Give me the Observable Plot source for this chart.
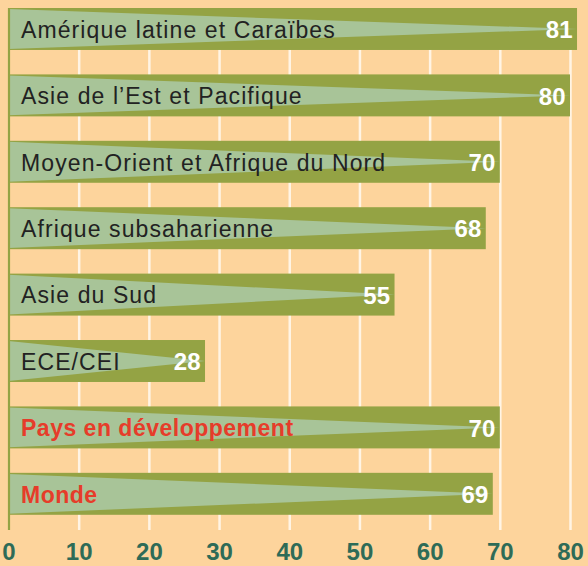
<!DOCTYPE html>
<html><head><meta charset="utf-8">
<script src="https://cdn.jsdelivr.net/npm/d3@7"></script>
<script src="https://cdn.jsdelivr.net/npm/@observablehq/plot@0.6"></script>
<style>
html,body{margin:0;padding:0;background:#FDD49C;}
svg{display:block;}
</style></head><body>
<div id="chart"></div>
<script>
const categories = ["Amérique latine et Caraïbes","Asie de l’Est et Pacifique","Moyen-Orient et Afrique du Nord","Afrique subsaharienne","Asie du Sud","ECE/CEI","Pays en développement","Monde"];
const values = [81,80,70,68,55,28,70,69];
const highlighted = ["Pays en développement","Monde"];
const xTicks = [0,10,20,30,40,50,60,70,80];

const data = categories.map((c,i)=>({cat:c, i, value:values[i], hl: highlighted.includes(c)}));
const H = 0.316, HW = 0.30;
const wedge = data.flatMap(d=>[
  {cat:d.cat, x:0, y1:d.i-HW, y2:d.i+HW},
  {cat:d.cat, x:d.value, y1:d.i, y2:d.i}
]);

const OLIVE = "#94A344", LIGHT = "#A8C498", TEAL = "#2E6B57", RED = "#E63C2A";
const font = "'Liberation Sans', Arial, sans-serif";

const chart = Plot.plot({
  width:588, height:566,
  marginLeft:8.5, marginRight:18, marginTop:8, marginBottom:36,
  style:{background:"#FDD49C", fontFamily:font, overflow:"visible"},
  x:{domain:[0,80], ticks:xTicks, tickSize:0, tickPadding:12, label:null},
  y:{domain:[-0.316,7.545], reverse:true, axis:null},
  marks:[
    Plot.ruleX(xTicks.filter(t=>t>0), {stroke:"#FFF4E4", strokeWidth:2.5}),
    Plot.rectX(data, {x1:0, x2:"value", y1:d=>d.i-H, y2:d=>d.i+H, fill:OLIVE}),
    Plot.areaY(wedge, {x:"x", y1:"y1", y2:"y2", z:"cat", fill:LIGHT, curve:"linear"}),
    Plot.ruleX([0], {stroke:OLIVE, strokeWidth:2.2}),
    Plot.text(data.filter(d=>!d.hl), {x:0, y:"i", text:"cat", textAnchor:"start", dx:12, dy:1, fontSize:23,
      fill:"#222", className:"catlab"}),
    Plot.text(data.filter(d=>d.hl), {x:0, y:"i", text:"cat", textAnchor:"start", dx:12, dy:1, fontSize:23,
      fill:RED, fontWeight:"bold", className:"hllab"}),
    Plot.text(data, {x:"value", y:"i", text:d=>String(d.value), textAnchor:"end", dx:-5, dy:1,
      fontSize:24, fontWeight:"bold", fill:"white"})
  ]
});
chart.querySelectorAll("g[aria-label='x-axis tick label']").forEach(e=>{
  e.setAttribute("font-size","24"); e.setAttribute("font-weight","bold"); e.setAttribute("fill",TEAL);
});
chart.querySelectorAll(".catlab").forEach(e=>e.setAttribute("letter-spacing","1.1"));
chart.querySelectorAll(".hllab").forEach(e=>e.setAttribute("letter-spacing","0.5"));
document.getElementById("chart").appendChild(chart);
</script>
</body></html>
